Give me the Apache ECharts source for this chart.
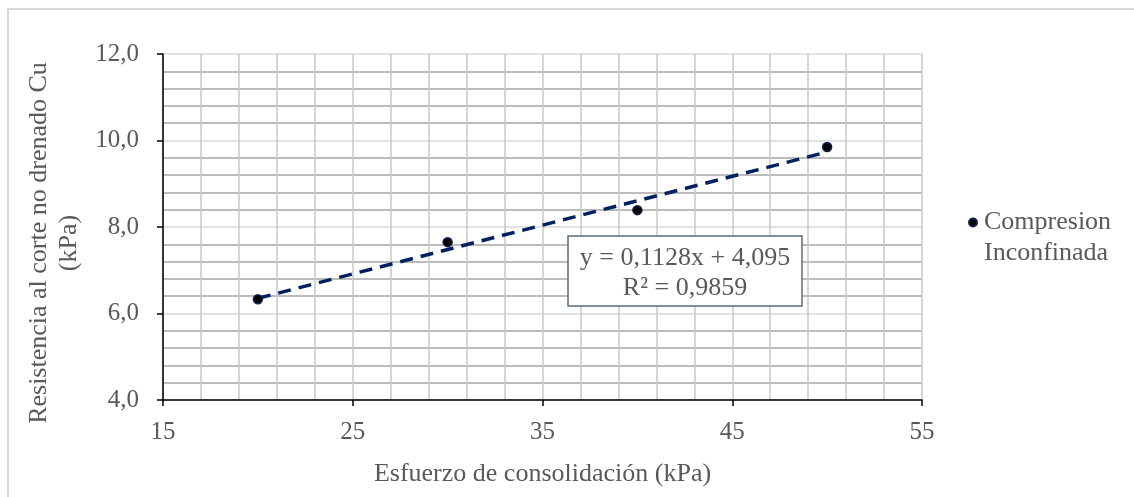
<!DOCTYPE html>
<html>
<head>
<meta charset="utf-8">
<script src="https://cdn.jsdelivr.net/npm/echarts@6/dist/echarts.min.js"></script>
<style>
html,body{margin:0;padding:0;background:#fff;}
#chart{width:1134px;height:497px;}
</style>
</head>
<body>
<div id="chart"></div>
<script>
// Data
const xValues = [20, 30, 40, 50];
const yValues = [6.33, 7.65, 8.39, 9.85];
const seriesName = 'Compresion Inconfinada';
const legendLines = ['Compresion', 'Inconfinada'];
const trendSlope = [0.1128];
const trendIntercept = [4.095];
const r2 = [0.9859];
const xTicks = [15, 25, 35, 45, 55];
const yTicks = [4.0, 6.0, 8.0, 10.0, 12.0];
const xTitle = 'Esfuerzo de consolidación (kPa)';
const yTitle = 'Resistencia al corte no drenado Cu\n(kPa)';

const fmt = (v, d) => v.toFixed(d).replace('.', ',');
const points = xValues.map((x, i) => [x, yValues[i]]);
const xMinData = Math.min(...xValues), xMaxData = Math.max(...xValues);
const trend = [xMinData, xMaxData].map(x => [x, trendSlope[0] * x + trendIntercept[0]]);
const eqText = 'y = ' + fmt(trendSlope[0], 4) + 'x + ' + fmt(trendIntercept[0], 3) + '\nR² = ' + fmt(r2[0], 4);

const FONT = '"Liberation Serif", "Times New Roman", serif';
const TXT = '#595959';

const chart = echarts.init(document.getElementById('chart'), null, {renderer: 'canvas'});
chart.setOption({
  animation: false,
  backgroundColor: '#fff',
  grid: {left: 163, right: 212, top: 54, bottom: 97, containLabel: false},
  xAxis: {
    type: 'value', min: xTicks[0], max: xTicks[xTicks.length - 1], interval: xTicks[1] - xTicks[0],
    name: xTitle, nameLocation: 'middle', nameGap: 61,
    nameTextStyle: {fontFamily: FONT, fontSize: 26, color: TXT},
    axisLine: {show: true, onZero: false, lineStyle: {color: '#000', width: 1.5}},
    axisTick: {show: true, length: 6, lineStyle: {color: '#000', width: 1.5}},
    axisLabel: {fontFamily: FONT, fontSize: 25, color: TXT, margin: 20},
    splitLine: {show: true, lineStyle: {color: '#c8c8c8', width: 1.5}},
    minorTick: {show: false, splitNumber: 5},
    minorSplitLine: {show: true, lineStyle: {color: '#c8c8c8', width: 1.5}}
  },
  yAxis: {
    type: 'value', min: yTicks[0], max: yTicks[yTicks.length - 1], interval: yTicks[1] - yTicks[0],
    name: yTitle, nameLocation: 'middle', nameGap: 73, nameRotate: 90,
    nameTextStyle: {fontFamily: FONT, fontSize: 26, color: TXT, lineHeight: 30, padding: [0, 32, 0, 0]},
    axisLine: {show: true, onZero: false, lineStyle: {color: '#000', width: 1.5}},
    axisTick: {show: true, length: 6, lineStyle: {color: '#000', width: 1.5}},
    axisLabel: {fontFamily: FONT, fontSize: 25, color: TXT, margin: 24, formatter: v => fmt(v, 1)},
    splitLine: {show: true, lineStyle: {color: '#d9d9d9', width: 1.5}},
    minorTick: {show: false, splitNumber: 5},
    minorSplitLine: {show: true, lineStyle: {color: '#a6a6a6', width: 1.5}}
  },
  legend: {
    show: true, orient: 'vertical', left: 963, top: 171,
    data: [{name: seriesName, icon: 'circle'}],
    itemWidth: 8, itemHeight: 8,
    formatter: () => ' \n' + legendLines.join('\n'),
    textStyle: {fontFamily: FONT, fontSize: 26, color: TXT, lineHeight: 31, padding: [0, 0, 0, 2]}
  },
  series: [
    {
      name: 'trend', type: 'line', data: trend, showSymbol: false, symbol: 'none',
      lineStyle: {color: '#002060', width: 3.5, type: [13, 8], cap: 'butt'},
      z: 2, silent: true
    },
    {
      name: seriesName, type: 'scatter', data: points, symbol: 'circle', symbolSize: 9,
      itemStyle: {color: '#000', borderColor: '#0d2250', borderWidth: 1.5, opacity: 1},
      z: 3
    }
  ],
  graphic: [
    {type: 'rect', silent: true, z: -10, shape: {x: 8, y: 9, width: 1200, height: 600},
     style: {fill: 'none', stroke: '#d9d9d9', lineWidth: 2}},
    {type: 'rect', z: 10, shape: {x: 568, y: 236, width: 234, height: 70},
     style: {fill: '#fff', stroke: '#5a6b80', lineWidth: 1.5}},
    {type: 'text', z: 11, x: 685, y: 273,
     style: {text: eqText, fontFamily: FONT, fontSize: 26, lineHeight: 30, fill: TXT, align: 'center', verticalAlign: 'middle'}}
  ]
});
</script>
</body>
</html>
